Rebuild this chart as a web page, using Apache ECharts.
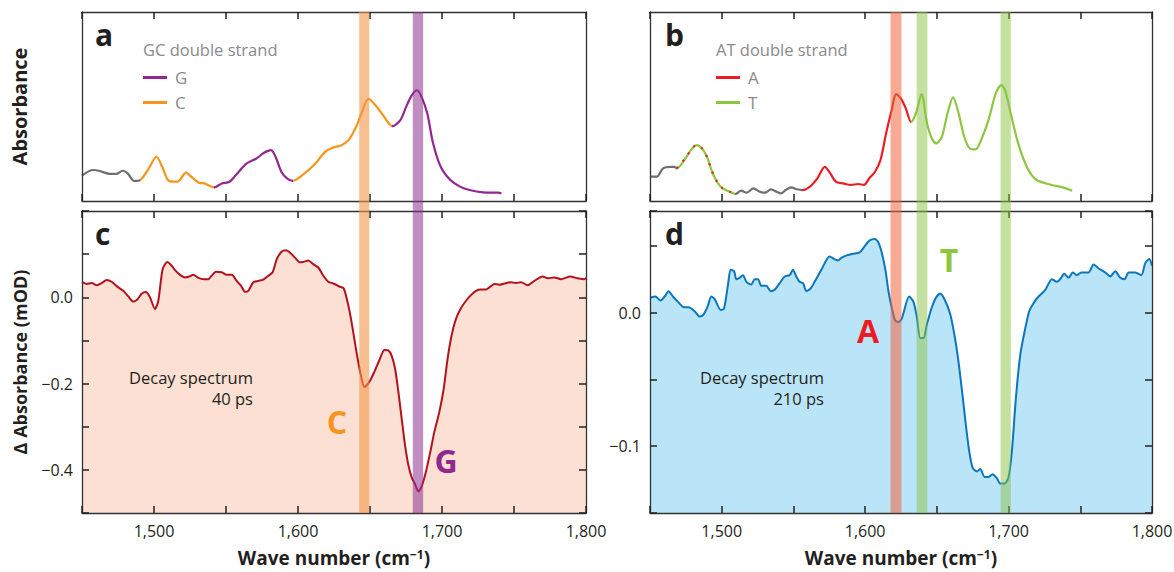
<!DOCTYPE html>
<html>
<head>
<meta charset="utf-8">
<script src="https://cdn.jsdelivr.net/npm/echarts@6/dist/echarts.min.js"></script>
<style>
  html, body { margin: 0; padding: 0; background: #fff; }
  #chart { width: 1174px; height: 572px; }
</style>
</head>
<body>
<div id="chart"></div>
<script>
// panel a: GC double strand, absorbance (arbitrary units, 0-100)
const specA = [
  [1450, 13.4], [1457.7, 16.4], [1461.7, 16.0], [1469.7, 14.3], [1473.7, 14.3], [1478.3, 16.0], [1481.7, 14.6], [1486.3, 10.6], [1490.5, 11.1],
  [1496.4, 17.3], [1501.7, 23.4], [1505.7, 18.1], [1509.7, 11.1], [1513.7, 10.2], [1516.4, 10.2], [1522.3, 15.0], [1525.8, 12.9], [1531.1, 9.7], [1535.1, 9.3], [1541.8, 7.2],
  [1547.1, 9.3], [1552.4, 10.2], [1557.8, 14.6], [1564.4, 19.9], [1571.1, 22.5], [1576.4, 25.5], [1581.2, 26.9], [1584.4, 23.4], [1588.4, 15.5], [1592.4, 12.0], [1596.4, 10.7],
  [1603.1, 13.7], [1611.1, 19.0], [1619.1, 26.1], [1624.4, 28.3], [1629.8, 29.4], [1635.1, 32.2], [1640.4, 39.3], [1644.5, 47.2], [1649, 54.0], [1653.8, 50.7], [1659.1, 45.4], [1665.5, 39.6],
  [1671.1, 42.8], [1675.1, 49.8], [1679.1, 56.0], [1682.6, 58.6], [1685.8, 55.1], [1689.8, 46.3], [1693.8, 30.5], [1699.1, 18.1], [1705.8, 11.1], [1712.5, 7.6], [1719.1, 5.8], [1728.5, 4.6], [1739.1, 4.4], [1741.3, 4.0]
]
// panel b: AT double strand
const specB = [
  [1450, 12.9], [1454.7, 12.9], [1459.1, 17.3], [1464.3, 18.1], [1466.9, 18.1], [1468.7, 17.3],
  [1474.6, 22.5], [1478.5, 26.9], [1482.4, 29.6], [1486.3, 27.8], [1490.2, 22.5], [1492.8, 16.4], [1496.7, 10.2], [1500.6, 6.7], [1505.7, 4.9], [1509.6, 3.7],
  [1513.5, 5.5], [1517.4, 4.4], [1522.1, 6.7], [1526.5, 4.9], [1530.4, 4.4], [1534.3, 6.2], [1538.2, 4.9], [1541.3, 4.0], [1544.6, 5.8], [1548.5, 7.2], [1552.4, 6.2], [1556.3, 5.8],
  [1561.5, 7.6], [1566.7, 12.0], [1571.9, 18.1], [1575.7, 14.6], [1579.6, 10.2], [1584.8, 9.3], [1590, 8.5], [1595.2, 9.0], [1599.1, 8.5], [1602.9, 12.0], [1606.9, 15.5], [1610.7, 21.7], [1614.6, 35.7], [1618.5, 48.1], [1621.6, 56.5], [1625, 54.2], [1628.4, 48.9], [1632, 41.9],
  [1635.4, 46.3], [1639.3, 56.5], [1643.2, 41.0], [1646.5, 33.1], [1649.6, 30.5], [1653.5, 34.0], [1657.4, 46.3], [1661.3, 54.8], [1665.2, 46.3], [1669.1, 34.0], [1673, 27.8], [1676.9, 27.3], [1680.8, 32.2], [1686, 42.8], [1691.1, 56.9], [1695, 61.3], [1697.6, 58.6], [1701.5, 46.3], [1706.7, 30.5], [1713.2, 17.3], [1719.6, 11.1], [1730, 8.5], [1737.8, 7.2], [1744.3, 5.5]
]
// panel c: decay spectrum 40 ps (mOD)
const specC = [
  [1450, 0.035], [1453.2, 0.031], [1456.7, 0.033], [1460.2, 0.028], [1463.7, 0.033], [1467.1, 0.040], [1470.6, 0.036], [1475.2, 0.023], [1478.7, 0.015], [1482.2, 0.002],
  [1485.6, -0.010], [1488.4, -0.005], [1491.4, 0.008], [1494.4, 0.012], [1497.2, 0.0], [1500.7, -0.027], [1503, -0.008], [1506, 0.065], [1509.3, 0.082], [1512.3, 0.073],
  [1514.6, 0.063], [1518.1, 0.052], [1521.5, 0.046], [1524.5, 0.048], [1527.3, 0.052], [1530.8, 0.045], [1534.7, 0.042], [1537.7, 0.042], [1540, 0.05], [1543.1, 0.059],
  [1547, 0.058], [1550.5, 0.052], [1554, 0.052], [1557.4, 0.038], [1560.4, 0.027], [1563.2, 0.013], [1565.5, 0.015], [1569, 0.035], [1572.5, 0.038], [1575.9, 0.041],
  [1579.4, 0.05], [1582.4, 0.058], [1585.2, 0.088], [1588.7, 0.106], [1591.7, 0.109], [1594.9, 0.102], [1597.9, 0.092], [1601.4, 0.081], [1603.7, 0.082], [1607.2, 0.085],
  [1610.6, 0.077], [1614.1, 0.069], [1617.6, 0.05], [1621.1, 0.036], [1624.5, 0.032], [1628.7, 0.025], [1631.7, 0.021], [1634.5, -0.012], [1636.8, -0.05], [1639.1, -0.096],
  [1641.4, -0.142], [1643.7, -0.181], [1646.1, -0.208], [1649.5, -0.196], [1653, -0.173], [1656.5, -0.146], [1660, -0.122], [1662.7, -0.123], [1665, -0.135], [1667.4, -0.165],
  [1669.7, -0.219], [1672, -0.281], [1674.3, -0.342], [1676.6, -0.388], [1679, -0.418], [1681.3, -0.433], [1683.6, -0.45], [1685.9, -0.438], [1688.9, -0.404], [1691.9, -0.358],
  [1694.7, -0.312], [1698.2, -0.265], [1701.2, -0.212], [1703.9, -0.142], [1706.7, -0.088], [1709.7, -0.05], [1713.2, -0.025], [1716.7, -0.008], [1720.1, 0.005], [1723.6, 0.015],
  [1727.1, 0.018], [1730.6, 0.018], [1732.9, 0.023], [1736.4, 0.031], [1739.8, 0.029], [1743.3, 0.032], [1747.9, 0.035], [1751.4, 0.033], [1754.9, 0.035], [1759.5, 0.028],
  [1764.1, 0.038], [1769.9, 0.048], [1773.4, 0.044], [1778, 0.046], [1782.6, 0.042], [1789.1, 0.048], [1794.2, 0.044], [1798.8, 0.042], [1800, 0.045]
]
// panel d: decay spectrum 210 ps (mOD)
const specD = [
  [1450, 0.011], [1453.7, 0.012], [1457.4, 0.009], [1460.2, 0.012], [1463, 0.016], [1466, 0.012], [1469.5, 0.008], [1473.7, 0.004], [1476.9, 0.004], [1481.1, 0.001],
  [1484.6, -0.003], [1487, -0.002], [1490, 0.004], [1492.8, 0.012], [1495.1, 0.010], [1499.3, 0.002], [1501.6, 0.003], [1504.4, 0.021], [1506.2, 0.032], [1508.6, 0.031],
  [1510.2, 0.025], [1512.5, 0.026], [1514.8, 0.028], [1517.2, 0.023], [1520.6, 0.021], [1523, 0.025], [1525.3, 0.025], [1527.6, 0.020], [1531.1, 0.020], [1534.1, 0.016],
  [1536.9, 0.017], [1540.4, 0.022], [1543.9, 0.027], [1547.4, 0.028], [1549.7, 0.032], [1552, 0.027], [1554.3, 0.023], [1556.7, 0.022], [1559, 0.016], [1562, 0.018],
  [1564.8, 0.023], [1569.5, 0.032], [1575.2, 0.042], [1578.7, 0.040], [1581.1, 0.039], [1583.4, 0.041], [1587.6, 0.043], [1591.5, 0.044], [1596.2, 0.045], [1599.2, 0.049],
  [1603.2, 0.054], [1606.6, 0.055], [1609, 0.053], [1611.3, 0.046], [1614.1, 0.032], [1616.4, 0.015], [1618.7, 0.003], [1621, -0.006], [1623.4, -0.007], [1625.7, -0.004],
  [1630.7, 0.012], [1633.7, 0.008], [1636, -0.003], [1638.4, -0.019], [1640.7, -0.019], [1643, -0.009], [1646.5, 0.004], [1649.3, 0.011], [1652.3, 0.014], [1655.3, 0.010],
  [1659.3, -0.001], [1662.3, -0.017], [1665.1, -0.037], [1667.9, -0.062], [1670.2, -0.084], [1672.6, -0.104], [1674.9, -0.116], [1677.9, -0.119], [1680.2, -0.117], [1683.3, -0.123],
  [1686, -0.123], [1688.8, -0.121], [1691.9, -0.124], [1694.2, -0.128], [1697.2, -0.128], [1700, -0.123], [1702.3, -0.104], [1705.1, -0.064], [1708.1, -0.032], [1711.2, -0.014],
  [1714.4, 0.001], [1717.4, 0.007], [1720.9, 0.012], [1725.6, 0.017], [1730.2, 0.025], [1733.7, 0.023], [1736, 0.025], [1738.8, 0.029], [1741.9, 0.026], [1744.7, 0.030],
  [1747.7, 0.028], [1750.7, 0.030], [1755.8, 0.030], [1759.3, 0.036], [1762.8, 0.033], [1767.4, 0.030], [1770.9, 0.027], [1774.4, 0.031], [1777.9, 0.026], [1780.9, 0.025],
  [1783.7, 0.030], [1788.4, 0.030], [1792.6, 0.028], [1795.3, 0.037], [1798.1, 0.040], [1800, 0.035]
]

// where the line colour switches (wave number) and the colour of each stretch
const breaksA = [1490.5, 1541.8, 1596.4, 1665.5]
const breaksB = [1468.7, 1509.6, 1556.3, 1632]
const dashRangeB = [1468.7, 1509.6]
// highlighted bands (wave number from, to)
const bandsLeft = [[1642.5, 1649.5], [1679.7, 1686.9]]
const bandsRight = [[1617.7, 1625.3], [1635.9, 1643.4], [1694.4, 1701.6]]
const xLabelTicks = [1500, 1600, 1700, 1800]
const yLabelTicksC = [0, -0.2, -0.4]
const yLabelTicksD = [0, -0.1]

const GRAY = '#6d6e71'
const ORANGE = '#f7941d'
const PURPLE = '#92278f'
const RED = '#ed1c24'
const GREEN = '#8dc63f'
const colorsA = [GRAY, ORANGE, PURPLE, ORANGE, PURPLE]
const colorsB = [GRAY, GREEN, GRAY, RED, GREEN]
const bandColorsLeft = ['rgba(244,150,70,0.6)', 'rgba(140,50,145,0.55)']
const bandColorsRight = ['rgba(240,100,60,0.55)', 'rgba(140,195,70,0.5)', 'rgba(140,195,70,0.5)']

const FONT = '"Open Sans", "Noto Sans", sans-serif'
const INK = '#231f20'

const chart = echarts.init(document.getElementById('chart'), null, { renderer: 'svg' })

function pieces(breaks, colors) {
  return colors.map((c, i) => {
    const p = { color: c }
    if (i > 0) p.gte = breaks[i - 1]
    if (i < breaks.length) p.lt = breaks[i]
    return p
  })
}

function fmtWave(v) {
  const r = Math.round(v)
  if (!xLabelTicks.includes(r) || Math.abs(v - r) > 1e-6) return ''
  return String(r).replace(/\B(?=(\d{3})+(?!\d))/g, ',')
}

function fmtY(list) {
  return (v) => {
    const t = list.find((x) => Math.abs(x - v) < 1e-6)
    if (t === undefined) return ''
    return t === 0 ? '0.0' : '\u2212' + Math.abs(t).toFixed(1)
  }
}

const axisLine = { show: true, onZero: false, lineStyle: { color: '#333', width: 1.3 } }
const tick = { show: true, inside: true, length: 7, lineStyle: { color: '#222', width: 1.5 } }

function xPair(grid, withLabels) {
  const base = {
    type: 'value', gridIndex: grid, min: 1450, max: 1800, interval: 50,
    axisLine, axisTick: tick, splitLine: { show: false }, z: 5,
  }
  const bottom = Object.assign({}, base, {
    position: 'bottom',
    axisLabel: { show: withLabels, formatter: fmtWave, margin: 10, fontSize: 16, color: INK, fontFamily: FONT },
  })
  if (withLabels) {
    Object.assign(bottom, {
      name: '{t|Wave number (cm}{s|\u22121}{t|)}',
      nameLocation: 'middle',
      nameGap: 35,
      nameTextStyle: {
        rich: {
          t: { fontSize: 19, fontWeight: 'bold', color: INK, fontFamily: FONT, lineHeight: 20 },
          s: { fontSize: 12, fontWeight: 'bold', color: INK, fontFamily: FONT, verticalAlign: 'top', lineHeight: 20, padding: [0, 0, 8, 0] },
        },
      },
    })
  }
  const top = Object.assign({}, base, { position: 'top', axisLabel: { show: false } })
  return [bottom, top]
}

function yPair(grid, min, max, interval, labels, name, nameSize, ticks) {
  const base = {
    type: 'value', gridIndex: grid, min, max, interval,
    axisLine, axisTick: ticks ? tick : { show: false }, splitLine: { show: false }, z: 5,
  }
  const left = Object.assign({}, base, {
    position: 'left',
    axisLabel: labels
      ? { formatter: fmtY(labels), margin: 9, fontSize: 16, color: INK, fontFamily: FONT }
      : { show: false },
    name,
    nameLocation: 'middle',
    nameGap: 53,
    nameTextStyle: { fontSize: nameSize, fontWeight: 'bold', color: INK, fontFamily: FONT },
  })
  const right = Object.assign({}, base, { position: 'right', axisLabel: { show: false } })
  return [left, right]
}

const hiddenX = (g) => ({ type: 'value', gridIndex: g, min: 1450, max: 1800, show: false })
const hiddenY = (g) => ({ type: 'value', gridIndex: g, min: 0, max: 1, show: false })

function bandSeries(idx, bands, colors) {
  return {
    type: 'line', xAxisIndex: idx, yAxisIndex: idx, data: [], z: 10, silent: true,
    markArea: {
      silent: true,
      z: 10,
      data: bands.map((b, i) => [
        { xAxis: b[0], itemStyle: { color: colors[i] } },
        { xAxis: b[1] },
      ]),
    },
  }
}

const legendDummy = (name, color, idx) => ({
  name, type: 'line', data: [], xAxisIndex: idx, yAxisIndex: idx, color,
  lineStyle: { color, width: 3 }, itemStyle: { color },
})

const legendBase = {
  orient: 'vertical', icon: 'rect', itemWidth: 24, itemHeight: 3, itemGap: 8, padding: 0,
  textStyle: { color: '#8a8a8a', fontSize: 17, fontFamily: FONT, padding: [0, 0, 0, 3] },
  selectedMode: false,
}

const txt = (text, x, y, font, fill, align) => ({
  type: 'text', x, y, z: 20,
  style: { text, font, fill, align: align || 'left', verticalAlign: 'middle', textAlign: align || 'left', textVerticalAlign: 'middle' },
})

chart.setOption({
  animation: false,
  backgroundColor: '#fff',
  grid: [
    { left: 82, top: 12, width: 504, height: 189, outerBoundsMode: 'none' },
    { left: 650, top: 12, width: 502, height: 189, outerBoundsMode: 'none' },
    { left: 82, top: 211, width: 504, height: 302, outerBoundsMode: 'none' },
    { left: 650, top: 211, width: 502, height: 302, outerBoundsMode: 'none' },
    { left: 82, top: 12, width: 504, height: 501, outerBoundsMode: 'none' },
    { left: 650, top: 12, width: 502, height: 501, outerBoundsMode: 'none' },
  ],
  xAxis: [
    ...xPair(0, false), ...xPair(1, false), ...xPair(2, true), ...xPair(3, true),
    hiddenX(4), hiddenX(5),
  ],
  yAxis: [
    ...yPair(0, 0, 100, 50, null, 'Absorbance', 20, false),
    ...yPair(1, 0, 100, 50, null, '', 20, false),
    ...yPair(2, -0.5, 0.2, 0.1, yLabelTicksC, '\u0394 Absorbance (mOD)', 18, true),
    ...yPair(3, -0.15, 0.076, 0.05, yLabelTicksD, '', 18, true),
    hiddenY(4), hiddenY(5),
  ],
  visualMap: [
    { type: 'piecewise', show: false, seriesIndex: 0, dimension: 0, pieces: pieces(breaksA, colorsA) },
    { type: 'piecewise', show: false, seriesIndex: 1, dimension: 0, pieces: pieces(breaksB, colorsB) },
  ],
  legend: [
    Object.assign({}, legendBase, { left: 143, top: 69, data: ['G', 'C'] }),
    Object.assign({}, legendBase, { left: 716, top: 69, data: ['A', 'T'] }),
  ],
  series: [
    {
      type: 'line', xAxisIndex: 0, yAxisIndex: 0, data: specA, smooth: 0.3,
      showSymbol: false, lineStyle: { width: 2.2 }, z: 3,
    },
    {
      type: 'line', xAxisIndex: 2, yAxisIndex: 2, data: specB, smooth: 0.3,
      showSymbol: false, lineStyle: { width: 2.2 }, z: 3,
    },
    {
      type: 'line', xAxisIndex: 2, yAxisIndex: 2, smooth: 0.3, showSymbol: false, z: 4,
      data: specB.filter((p) => p[0] >= dashRangeB[0] && p[0] <= dashRangeB[1]),
      lineStyle: { color: RED, width: 2.2, type: [2, 7] }, itemStyle: { color: RED },
    },
    {
      type: 'line', xAxisIndex: 4, yAxisIndex: 4, data: specC, smooth: 0.25, showSymbol: false, z: 3,
      lineStyle: { color: '#b3121c', width: 2 }, itemStyle: { color: '#b3121c' },
      areaStyle: { color: '#fbe0d3', opacity: 1, origin: 'start' },
    },
    {
      type: 'line', xAxisIndex: 6, yAxisIndex: 6, data: specD, smooth: 0.25, showSymbol: false, z: 3,
      lineStyle: { color: '#0a76bd', width: 2 }, itemStyle: { color: '#0a76bd' },
      areaStyle: { color: '#bae5f8', opacity: 1, origin: 'start' },
    },
    legendDummy('G', PURPLE, 0),
    legendDummy('C', ORANGE, 0),
    legendDummy('A', RED, 2),
    legendDummy('T', GREEN, 2),
    bandSeries(8, bandsLeft, bandColorsLeft),
    bandSeries(9, bandsRight, bandColorsRight),
  ],
  graphic: [
    txt('a', 95, 34, 'bold 30px ' + FONT, INK),
    txt('b', 665, 34, 'bold 30px ' + FONT, INK),
    txt('c', 95, 233, 'bold 30px ' + FONT, INK),
    txt('d', 665, 233, 'bold 30px ' + FONT, INK),
    txt('GC double strand', 143, 49, '16.5px ' + FONT, '#8a8a8a'),
    txt('AT double strand', 716, 49, '16.5px ' + FONT, '#8a8a8a'),
    txt('Decay spectrum', 253, 377, '16.5px ' + FONT, INK, 'right'),
    txt('40 ps', 253, 398, '16.5px ' + FONT, INK, 'right'),
    txt('Decay spectrum', 824, 377, '16.5px ' + FONT, INK, 'right'),
    txt('210 ps', 824, 398, '16.5px ' + FONT, INK, 'right'),
    txt('C', 337, 421, 'bold 32px ' + FONT, ORANGE, 'center'),
    txt('G', 446, 460, 'bold 32px ' + FONT, PURPLE, 'center'),
    txt('A', 868, 330, 'bold 32px ' + FONT, RED, 'center'),
    txt('T', 949, 259, 'bold 32px ' + FONT, GREEN, 'center'),
  ],
})
</script>
</body>
</html>
